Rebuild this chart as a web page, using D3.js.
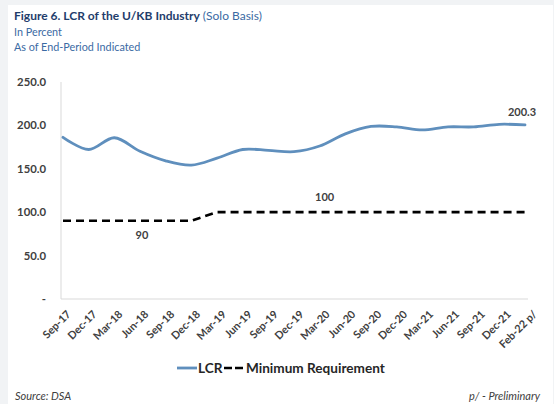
<!DOCTYPE html>
<html>
<head>
<meta charset="utf-8">
<script src="https://cdn.jsdelivr.net/npm/d3@7"></script>
<style>
  html, body { margin: 0; padding: 0; background: #f1f3f5; }
  svg { display: block; }
</style>
</head>
<body>
<svg id="chart" width="554" height="404"></svg>
<script>
// Quarter-end periods, last one preliminary
const categories = ["Sep-17","Dec-17","Mar-18","Jun-18","Sep-18","Dec-18","Mar-19","Jun-19","Sep-19","Dec-19",
                    "Mar-20","Jun-20","Sep-20","Dec-20","Mar-21","Jun-21","Sep-21","Dec-21","Feb-22 p/"];
// Liquidity coverage ratio, percent
const lcr = [186, 172, 185.5, 170, 159, 154, 162, 172, 171, 169.5,
             176, 190, 198.5, 198, 194.5, 198, 198, 201, 200.3];
// Regulatory minimum, percent
const minReq = [90, 90, 90, 90, 90, 90, 100, 100, 100, 100,
                100, 100, 100, 100, 100, 100, 100, 100, 100];
const yTicks = [0, 50, 100, 150, 200, 250];

const svg = d3.select("#chart");
const font = "Lato, 'Liberation Sans', sans-serif";

// white panel
svg.append("rect").attr("x", 8).attr("y", 5).attr("width", 545).attr("height", 399).attr("fill", "#ffffff");

// titles
const t = svg.append("text").attr("x", 14).attr("y", 20).attr("font-family", font).attr("font-size", 12);
t.append("tspan").attr("font-weight", "bold").attr("fill", "#1f3d6b").text("Figure 6. LCR of the U/KB Industry");
t.append("tspan").attr("fill", "#3b6aa3").text(" (Solo Basis)");
svg.append("text").attr("x", 14).attr("y", 36).attr("font-family", font).attr("font-size", 10.8)
  .attr("fill", "#3b6aa3").text("In Percent");
svg.append("text").attr("x", 14).attr("y", 51).attr("font-family", font).attr("font-size", 10.8)
  .attr("fill", "#3b6aa3").text("As of End-Period Indicated");

const x = d3.scalePoint().domain(categories).range([63, 525]);
const xLabels = d3.scalePoint().domain(categories).range([64, 530]);
const y = d3.scaleLinear().domain([0, 250]).range([299, 81.7]);

// axes lines
svg.append("line").attr("x1", 61).attr("x2", 61).attr("y1", 82).attr("y2", 299)
  .attr("stroke", "#d9d9d9").attr("stroke-width", 1);
svg.append("line").attr("x1", 61).attr("x2", 528).attr("y1", 299).attr("y2", 299)
  .attr("stroke", "#d9d9d9").attr("stroke-width", 1);

// y tick labels
const yAxis = d3.axisLeft(y).tickValues(yTicks).tickSize(0).tickPadding(0)
  .tickFormat(d => d === 0 ? "-" : d3.format(".1f")(d));
const gy = svg.append("g").attr("transform", "translate(46,0)").call(yAxis);
gy.select(".domain").remove();
gy.selectAll("text").attr("font-family", font).attr("font-size", 11.3).attr("font-weight", "bold")
  .attr("fill", "#404040");

// x tick labels, rotated
const xAxis = d3.axisBottom(xLabels).tickSize(0).tickPadding(0);
const gx = svg.append("g").attr("transform", "translate(0,299)").call(xAxis);
gx.select(".domain").remove();
gx.selectAll("text")
  .attr("font-family", font).attr("font-size", 10.8).attr("font-weight", "bold").attr("fill", "#404040")
  .attr("text-anchor", "end").attr("dy", 0).attr("y", 0)
  .attr("transform", "translate(7,16) rotate(-45)");

// minimum requirement (dashed)
const lineMin = d3.line().x((d, i) => x(categories[i])).y(d => y(d));
svg.append("path").datum(minReq).attr("d", lineMin).attr("fill", "none")
  .attr("stroke", "#000000").attr("stroke-width", 2.6).attr("stroke-dasharray", "8,5");

// LCR (smoothed)
const lineLcr = d3.line().x((d, i) => x(categories[i])).y(d => y(d)).curve(d3.curveCardinal.tension(0));
svg.append("path").datum(lcr).attr("d", lineLcr).attr("fill", "none")
  .attr("stroke", "#5f8fbd").attr("stroke-width", 2.8).attr("stroke-linecap", "round");

// data labels
const lastIdx = lcr.length - 1;
svg.append("text").attr("x", x(categories[lastIdx]) - 3).attr("y", y(lcr[lastIdx]) - 9)
  .attr("text-anchor", "middle").attr("font-family", font).attr("font-size", 11).attr("font-weight", "bold")
  .attr("fill", "#404040").text(d3.format(".1f")(lcr[lastIdx]));
svg.append("text").attr("x", x(categories[10]) + 5).attr("y", y(minReq[10]) - 11)
  .attr("text-anchor", "middle").attr("font-family", font).attr("font-size", 11).attr("font-weight", "bold")
  .attr("fill", "#404040").text(minReq[10]);
svg.append("text").attr("x", (x(categories[3]) + 2)).attr("y", y(minReq[3]) + 18)
  .attr("text-anchor", "middle").attr("font-family", font).attr("font-size", 11).attr("font-weight", "bold")
  .attr("fill", "#404040").text(minReq[3]);

// legend
const lg = svg.append("g").attr("font-family", font).attr("font-size", 13.6).attr("font-weight", "bold").attr("fill", "#262626");
lg.append("line").attr("x1", 177).attr("x2", 197).attr("y1", 368).attr("y2", 368)
  .attr("stroke", "#5f8fbd").attr("stroke-width", 2.8);
lg.append("text").attr("x", 198).attr("y", 372.5).text("LCR");
lg.append("line").attr("x1", 224).attr("x2", 243).attr("y1", 368).attr("y2", 368)
  .attr("stroke", "#000").attr("stroke-width", 2.6).attr("stroke-dasharray", "8,3");
lg.append("text").attr("x", 246).attr("y", 372.5).text("Minimum Requirement");

// footnotes
svg.append("text").attr("x", 15).attr("y", 400).attr("font-family", font).attr("font-size", 11)
  .attr("font-style", "italic").attr("fill", "#404040").text("Source: DSA");
svg.append("text").attr("x", 540).attr("y", 400).attr("text-anchor", "end").attr("font-family", font).attr("font-size", 11)
  .attr("font-style", "italic").attr("fill", "#404040").text("p/ - Preliminary");
</script>
</body>
</html>
